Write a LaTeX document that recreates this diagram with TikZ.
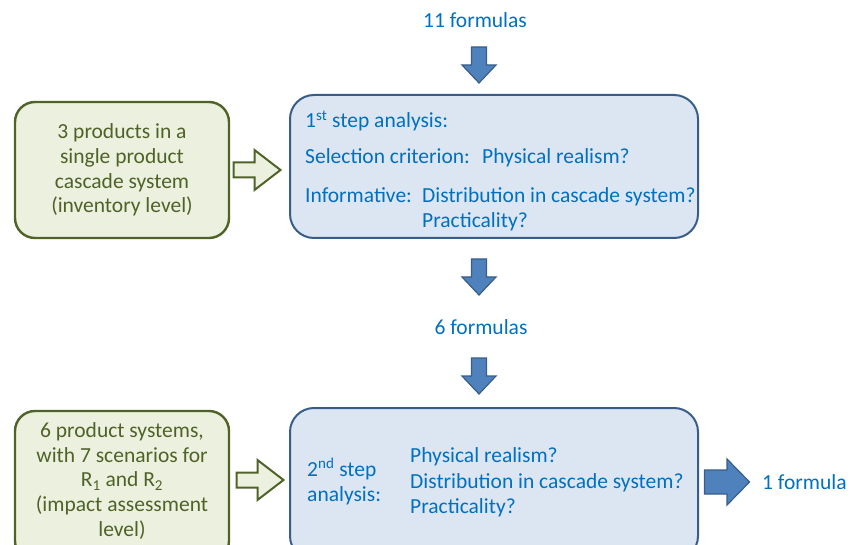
\documentclass[tikz,border=0pt]{standalone}
\usepackage{fontspec}
\setmainfont{Carlito}
\definecolor{gfill}{HTML}{EBF1DE}
\definecolor{gline}{HTML}{4F6228}
\definecolor{bfill}{HTML}{DCE6F2}
\definecolor{bline}{HTML}{385D8A}
\definecolor{afill}{HTML}{4F81BD}
\definecolor{btext}{HTML}{0070C0}
\tikzset{
  greenbox/.style={draw=gline, fill=gfill, line width=2.4pt, rounded corners=20pt, inner sep=0pt},
  bluebox/.style={draw=bline, fill=bfill, line width=2pt, rounded corners=24pt, inner sep=0pt},
  gtext/.style={text=gline, align=center, font=\fontsize{21.5}{24.6}\selectfont, inner sep=0pt},
  btxt/.style={text=btext, font=\fontsize{21.5}{24.6}\selectfont, inner sep=0pt, anchor=base west},
  downarr/.pic={\filldraw[fill=afill, draw=bline, line width=1.2pt, line join=miter]
      (-7.5,-18) -- (7.5,-18) -- (7.5,0) -- (17,0) -- (0,18) -- (-17,0) -- (-7.5,0) -- cycle;},
  greenarr/.pic={\filldraw[fill=gfill, draw=gline, line width=2pt, line join=miter]
      (-23.5,-7.5) -- (-2.5,-7.5) -- (-2.5,-20) -- (23.5,0) -- (-2.5,20) -- (-2.5,7.5) -- (-23.5,7.5) -- cycle;},
  rightarr/.pic={\filldraw[fill=afill, draw=bline, line width=1.2pt, line join=miter]
      (-22.5,-12) -- (0,-12) -- (0,-23) -- (22.5,0) -- (0,23) -- (0,12) -- (-22.5,12) -- cycle;}
}
\begin{document}
\begin{tikzpicture}[x=1pt,y=-1pt]
\useasboundingbox (0,0) rectangle (859,545);
\clip (0,0) rectangle (859,545);

% top labels and arrows
\node[btxt, anchor=center] (f11) at (475,20) {11 formulas};
\pic at (479,65) {downarr};

% first row
\node[greenbox, minimum width=214pt, minimum height=136pt] (g1) at (122,170) {};
\node[gtext] (g1t) at (122,170) {3 products in a\\single product\\cascade system\\(inventory level)};
\pic at (257,170) {greenarr};
\node[bluebox, minimum width=408pt, minimum height=143pt] (b1) at (494,166.5) {};
\node[btxt] (s1) at (305,128) {1\textsuperscript{st} step analysis:};
\node[btxt] (s2) at (305,164) {Selection criterion:};
\node[btxt] (s3) at (482,164) {Physical realism?};
\node[btxt] (s4) at (305,203) {Informative:};
\node[btxt] (s5) at (422,203) {Distribution in cascade system?};
\node[btxt] (s6) at (422,228) {Practicality?};

% middle
\pic at (479,277) {downarr};
\node[btxt, anchor=center] (f6) at (481,327) {6 formulas};
\pic at (479,376) {downarr};

% second row
\node[greenbox, minimum width=214pt, minimum height=150pt] (g2) at (122,486) {};
\node[gtext] (g2t) at (122,481) {6 product systems,\\with 7 scenarios for\\R\textsubscript{1} and R\textsubscript{2}\\(impact assessment\\level)};
\pic at (260,480) {greenarr};
\node[bluebox, minimum width=408pt, minimum height=152pt] (b2) at (494,484) {};
\node[btxt] (t1) at (307,476) {2\textsuperscript{nd} step};
\node[btxt] (t2) at (307,501) {analysis:};
\node[btxt] (t3) at (410,462) {Physical realism?};
\node[btxt] (t4) at (410,488) {Distribution in cascade system?};
\node[btxt] (t5) at (410,513) {Practicality?};
\pic at (727,482) {rightarr};
\node[btxt] (f1) at (762,489) {1 formula};
\end{tikzpicture}
\end{document}
